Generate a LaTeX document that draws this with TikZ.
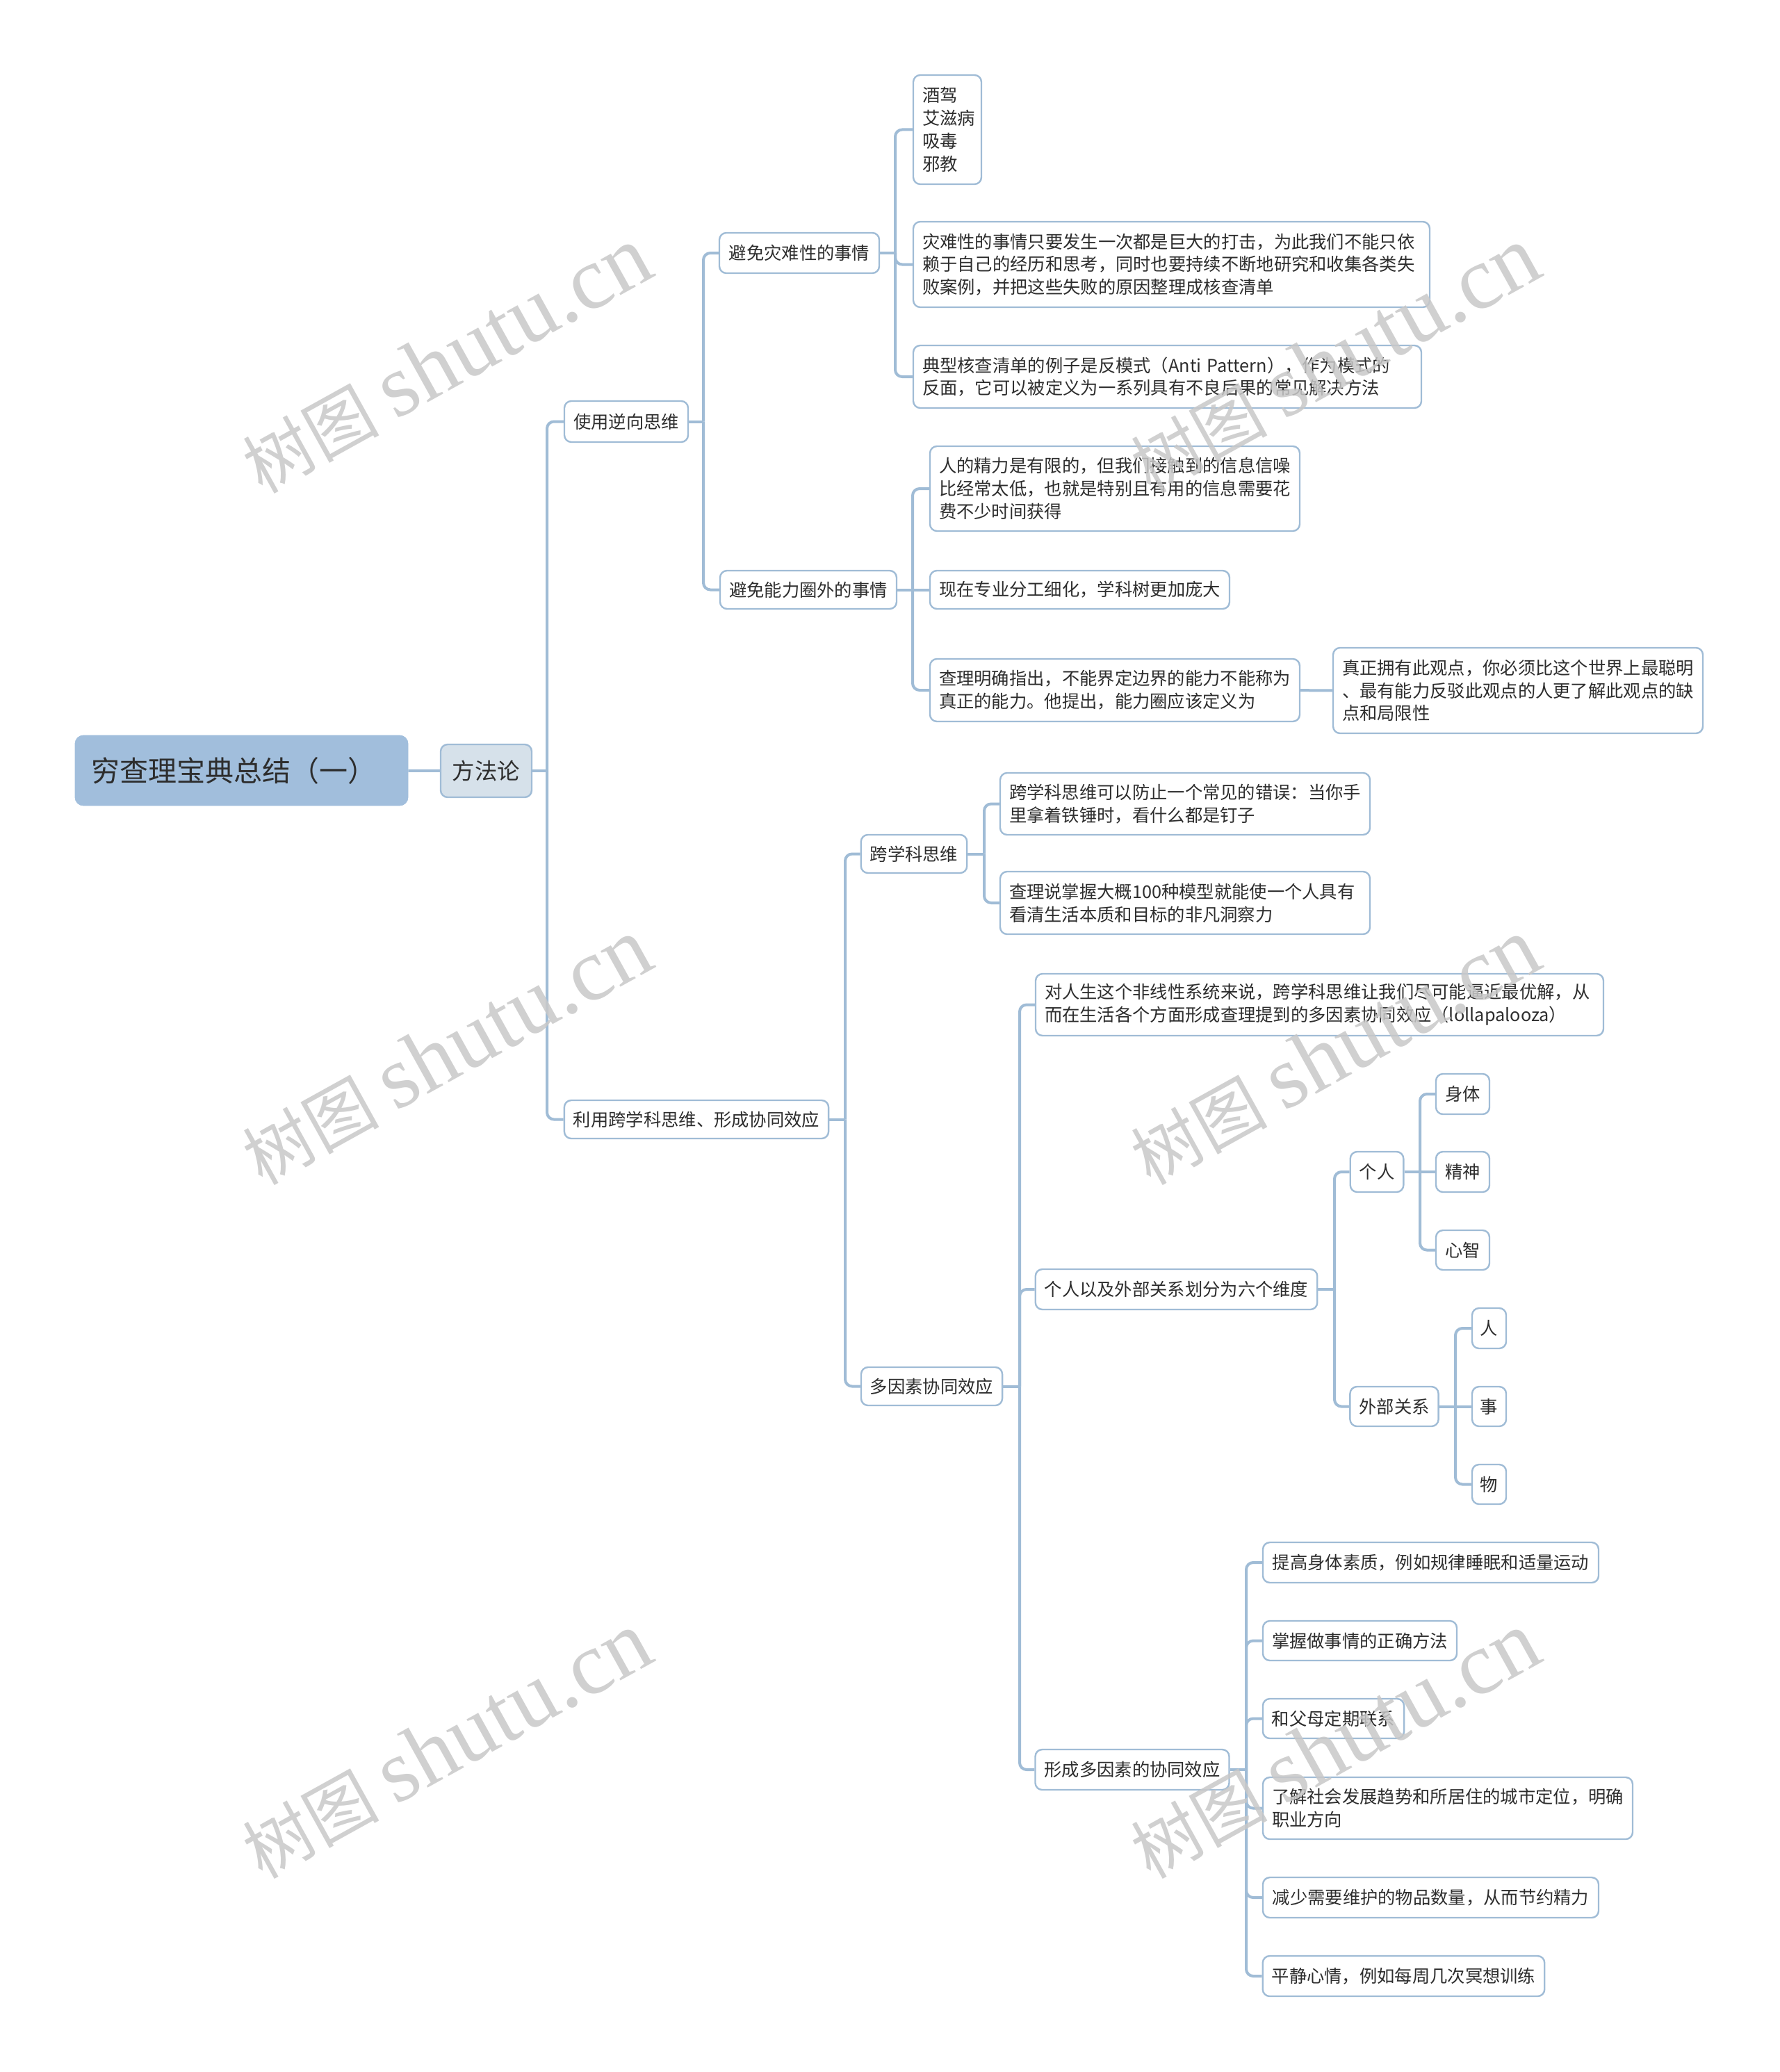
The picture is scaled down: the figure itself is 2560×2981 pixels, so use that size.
\documentclass[tikz,border=0pt]{standalone}
\usepackage{fontspec}
\setmainfont{Noto Sans CJK SC}
\newfontfamily\wmserif{Liberation Serif}
\usetikzlibrary{backgrounds}
\definecolor{lineblue}{RGB}{160,188,214}
\definecolor{rootfill}{RGB}{161,190,220}
\definecolor{secfill}{RGB}{214,225,234}
\definecolor{txt}{RGB}{45,45,45}
\definecolor{wmgray}{RGB}{200,200,200}

% single-line box: style, name, x1, y1, x2, y2, text
\newcommand\sbx[7]{%
  \pgfmathsetmacro\mbW{(#5-#3)*0.5}%
  \pgfmathsetmacro\mbH{(#6-#4)*0.5}%
  \pgfmathsetmacro\mbX{(#3+#5)/2}%
  \pgfmathsetmacro\mbY{(#4+#6)/2}%
  \node[minimum width=\mbW pt, minimum height=\mbH pt, #1] (#2) at (\mbX,\mbY) {#7};%
}
% multi-line box, left aligned
\newcommand\mbx[7]{%
  \pgfmathsetmacro\mbW{(#5-#3)*0.5}%
  \pgfmathsetmacro\mbH{(#6-#4)*0.5}%
  \pgfmathsetmacro\mbT{(#5-#3-26)*0.5}%
  \pgfmathsetmacro\mbX{(#3+#5)/2}%
  \pgfmathsetmacro\mbY{(#4+#6)/2}%
  \node[minimum width=\mbW pt, minimum height=\mbH pt, text width=\mbT pt, align=left, #1] (#2) at (\mbX,\mbY) {#7};%
}
\newcommand\wmtext{{\fontsize{49pt}{56pt}\selectfont 树图}\hspace{12pt}{\wmserif\fontsize{64pt}{70pt}\selectfont shutu.cn}}

\begin{document}
\begin{tikzpicture}[x=0.5pt,y=-0.5pt,
  box/.style={draw=lineblue, line width=1.2pt, fill=white, rounded corners=5pt,
    inner xsep=6.5pt, inner ysep=1pt, text=txt,
    font=\fontsize{12.65pt}{16.4pt}\selectfont},
  rootbox/.style={draw=rootfill, fill=rootfill, rounded corners=6pt, text=txt,
    inner xsep=11.5pt, inner ysep=1pt, font=\fontsize{20.5pt}{24pt}\selectfont},
  secbox/.style={draw=lineblue, line width=1.2pt, fill=secfill, rounded corners=5pt,
    text=txt, inner xsep=6pt, inner ysep=1pt, font=\fontsize{16.2pt}{20pt}\selectfont},
  conn/.style={draw=lineblue, line width=2pt, rounded corners=5pt},
  wmark/.style={text=wmgray, text opacity=0.85, rotate=29, inner sep=0pt}
]
\useasboundingbox (0,0) rectangle (2560,2981);

% ---- nodes ----
\mbx{rootbox, text width=216.5pt}{root}{108}{1058}{587}{1159}{穷查理宝典总结（一）}
\sbx{secbox}{fang}{634}{1071}{765}{1147}{方法论}

\sbx{box}{nixiang}{812}{577}{990}{636}{使用逆向思维}
\sbx{box}{kuaxue}{812}{1583}{1192}{1638}{利用跨学科思维、形成协同效应}

\sbx{box}{zaina}{1035}{335}{1265}{393}{避免灾难性的事情}
\sbx{box}{nengli}{1036}{821}{1290}{876}{避免能力圈外的事情}

\mbx{box}{jiujia}{1314}{108}{1412}{265}{酒驾\\艾滋病\\吸毒\\邪教}
\mbx{box}{zainatext}{1314}{319}{2057}{442}{灾难性的事情只要发生一次都是巨大的打击，为此我们不能只依\\赖于自己的经历和思考，同时也要持续不断地研究和收集各类失\\败案例，并把这些失败的原因整理成核查清单}
\mbx{box}{dianxing}{1314}{497}{2045}{587}{典型核查清单的例子是反模式（Anti Pattern），作为模式的\\反面，它可以被定义为一系列具有不良后果的常见解决方法}

\mbx{box}{jingli}{1338}{642}{1870}{764}{人的精力是有限的，但我们接触到的信息信噪\\比经常太低，也就是特别且有用的信息需要花\\费不少时间获得}
\sbx{box}{zhuanye}{1338}{821}{1769}{876}{现在专业分工细化，学科树更加庞大}
\mbx{box}{chali}{1338}{948}{1870}{1038}{查理明确指出，不能界定边界的能力不能称为\\真正的能力。他提出，能力圈应该定义为}
\mbx{box}{zhenzheng}{1918}{932}{2450}{1055}{真正拥有此观点，你必须比这个世界上最聪明\\、最有能力反驳此观点的人更了解此观点的缺\\点和局限性}

\sbx{box}{kxsw}{1239}{1201}{1391}{1256}{跨学科思维}
\sbx{box}{dys}{1239}{1967}{1442}{2022}{多因素协同效应}

\mbx{box}{fangzhi}{1439}{1112}{1971}{1201}{跨学科思维可以防止一个常见的错误：当你手\\里拿着铁锤时，看什么都是钉子}
\mbx{box}{moxing}{1439}{1254}{1971}{1344}{查理说掌握大概100种模型就能使一个人具有\\看清生活本质和目标的非凡洞察力}

\mbx{box}{rensheng}{1490}{1401}{2307}{1490}{对人生这个非线性系统来说，跨学科思维让我们尽可能逼近最优解，从\\而在生活各个方面形成查理提到的多因素协同效应（lollapalooza）}
\sbx{box}{liuge}{1490}{1826}{1895}{1884}{个人以及外部关系划分为六个维度}
\sbx{box}{xingcheng}{1490}{2517}{1768}{2575}{形成多因素的协同效应}

\sbx{box}{geren}{1943}{1657}{2019}{1715}{个人}
\sbx{box}{waibu}{1943}{1995}{2069}{2052}{外部关系}

\sbx{box}{shenti}{2066}{1545}{2143}{1603}{身体}
\sbx{box}{jingshen}{2066}{1657}{2143}{1715}{精神}
\sbx{box}{xinzhi}{2066}{1770}{2143}{1827}{心智}

\sbx{box, inner xsep=2pt}{ren}{2118}{1882}{2167}{1940}{人}
\sbx{box, inner xsep=2pt}{shi}{2118}{1995}{2167}{2052}{事}
\sbx{box, inner xsep=2pt}{wu}{2118}{2107}{2167}{2164}{物}

\sbx{box}{tigao}{1817}{2219}{2300}{2277}{提高身体素质，例如规律睡眠和适量运动}
\sbx{box}{zhangwo}{1817}{2332}{2096}{2389}{掌握做事情的正确方法}
\sbx{box}{fumu}{1817}{2444}{2020}{2501}{和父母定期联系}
\mbx{box}{liaojie}{1817}{2557}{2349}{2646}{了解社会发展趋势和所居住的城市定位，明确\\职业方向}
\sbx{box}{jianshao}{1817}{2701}{2300}{2759}{减少需要维护的物品数量，从而节约精力}
\sbx{box}{pingjing}{1817}{2814}{2222}{2872}{平静心情，例如每周几次冥想训练}

% ---- bus coordinates ----
\coordinate (b0) at (787,0);
\coordinate (b1) at (1012,0);
\coordinate (b2) at (1288,0);
\coordinate (b3) at (1313,0);
\coordinate (b4) at (1216,0);
\coordinate (b5) at (1416,0);
\coordinate (b6) at (1467,0);
\coordinate (b7) at (1920,0);
\coordinate (b8) at (2043,0);
\coordinate (b9) at (2094,0);
\coordinate (b10) at (1793,0);

% ---- connectors ----
\begin{scope}[on background layer]
\fill[white] (0,0) rectangle (2560,2981);
\draw[conn] (root) -- (fang);
\draw[conn] (fang.east) -- (fang.east -| b0);
\foreach \c in {nixiang,kuaxue} \draw[conn] (fang.east -| b0) |- (\c.west);

\draw[conn] (nixiang.east) -- (nixiang.east -| b1);
\foreach \c in {zaina,nengli} \draw[conn] (nixiang.east -| b1) |- (\c.west);

\draw[conn] (zaina.east) -- (zaina.east -| b2);
\foreach \c in {jiujia,zainatext,dianxing} \draw[conn] (zaina.east -| b2) |- (\c.west);

\draw[conn] (nengli.east) -- (zhuanye.west);
\foreach \c in {jingli,chali} \draw[conn] (nengli.east -| b3) |- (\c.west);
\draw[conn] (chali) -- (zhenzheng);

\draw[conn] (kuaxue.east) -- (kuaxue.east -| b4);
\foreach \c in {kxsw,dys} \draw[conn] (kuaxue.east -| b4) |- (\c.west);

\draw[conn] (kxsw.east) -- (kxsw.east -| b5);
\foreach \c in {fangzhi,moxing} \draw[conn] (kxsw.east -| b5) |- (\c.west);

\draw[conn] (dys.east) -- (dys.east -| b6);
\foreach \c in {rensheng,liuge,xingcheng} \draw[conn] (dys.east -| b6) |- (\c.west);

\draw[conn] (liuge.east) -- (liuge.east -| b7);
\foreach \c in {geren,waibu} \draw[conn] (liuge.east -| b7) |- (\c.west);

\draw[conn] (geren.east) -- (jingshen.west);
\foreach \c in {shenti,xinzhi} \draw[conn] (geren.east -| b8) |- (\c.west);

\draw[conn] (waibu.east) -- (shi.west);
\foreach \c in {ren,wu} \draw[conn] (waibu.east -| b9) |- (\c.west);

\draw[conn] (xingcheng.east) -- (xingcheng.east -| b10);
\foreach \c in {tigao,zhangwo,fumu,liaojie,jianshao,pingjing} \draw[conn] (xingcheng.east -| b10) |- (\c.west);
\end{scope}

% ---- watermarks ----
\node[wmark] (wm1) at (642,518) {\wmtext};
\node[wmark] (wm2) at (1920,518) {\wmtext};
\node[wmark] (wm3) at (642,1513) {\wmtext};
\node[wmark] (wm4) at (1920,1513) {\wmtext};
\node[wmark] (wm5) at (642,2511) {\wmtext};
\node[wmark] (wm6) at (1920,2511) {\wmtext};
\end{tikzpicture}
\end{document}
